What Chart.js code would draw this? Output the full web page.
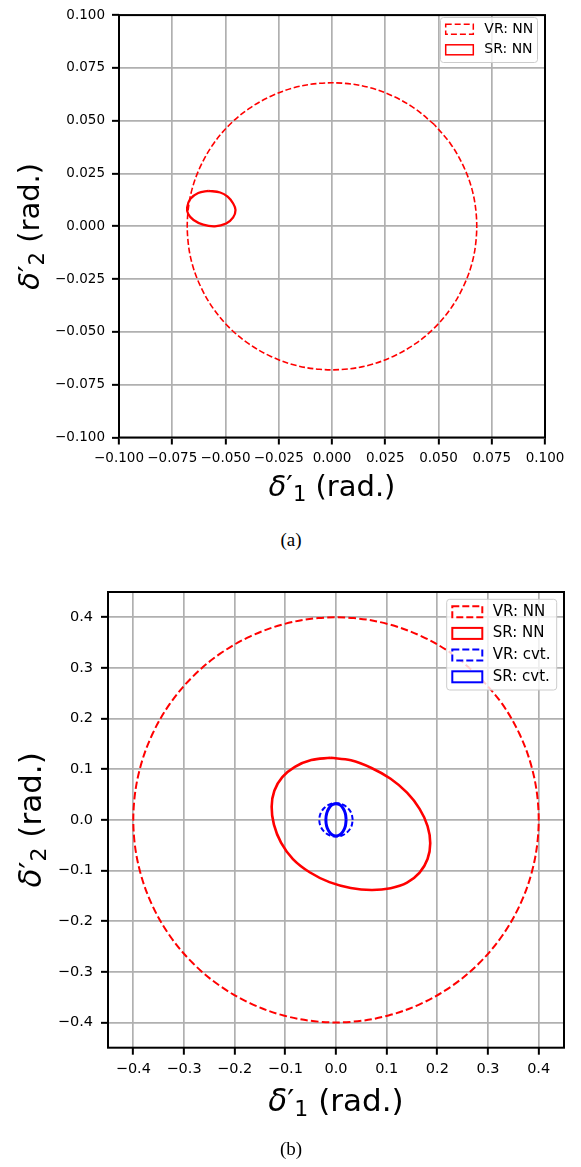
<!DOCTYPE html>
<html>
<head>
<meta charset="utf-8">
<script src="https://cdn.jsdelivr.net/npm/chart.js@4.4.1/dist/chart.umd.min.js"></script>
<style>
    body { margin: 0; background: #fff; width: 581px; height: 1167px; position: relative; overflow: hidden; }
    .box { position: absolute; left: 0; width: 581px; }
    .cap { position: absolute; width: 60px; text-align: center; font-family: "Liberation Serif", serif; font-size: 19px; line-height: 20px; color: #000; }
</style>
</head>
<body>
<div class="box" style="top:0;height:520px"><canvas id="js--chart--a"></canvas></div>
<div class="box" style="top:560px;height:580px"><canvas id="js--chart--b"></canvas></div>
<div class="cap" style="left:261px;top:530px">(a)</div>
<div class="cap" style="left:261px;top:1139px">(b)</div>

<script>
// tick values
const ticksA = [-0.1, -0.075, -0.05, -0.025, 0, 0.025, 0.05, 0.075, 0.1];
const ticksB = [-0.4, -0.3, -0.2, -0.1, 0, 0.1, 0.2, 0.3, 0.4];

// legend labels
const labelsA = ['VR: NN', 'SR: NN'];
const labelsB = ['VR: NN', 'SR: NN', 'VR: cvt.', 'SR: cvt.'];

// (a) VR: NN boundary (dashed, r ~ 0.068)
const vrNN_a = [
    [0.0481, 0.0481], [0.0390, 0.0557], [0.0287, 0.0616], [0.0176, 0.0657], [0.0059, 0.0677],
    [-0.0059, 0.0677], [-0.0176, 0.0657], [-0.0287, 0.0616], [-0.0390, 0.0557], [-0.0481, 0.0481],
    [-0.0557, 0.0390], [-0.0616, 0.0287], [-0.0657, 0.0176], [-0.0677, 0.0059], [-0.0677, -0.0059],
    [-0.0657, -0.0176], [-0.0616, -0.0287], [-0.0557, -0.0390], [-0.0481, -0.0481], [-0.0390, -0.0557],
    [-0.0287, -0.0616], [-0.0176, -0.0657], [-0.0059, -0.0677], [0.0059, -0.0677], [0.0176, -0.0657],
    [0.0287, -0.0616], [0.0390, -0.0557], [0.0481, -0.0481], [0.0557, -0.0390], [0.0616, -0.0287],
    [0.0657, -0.0176], [0.0677, -0.0059], [0.0677, 0.0059], [0.0657, 0.0176], [0.0616, 0.0287],
    [0.0557, 0.0390], [0.0481, 0.0481]
];

// (a) SR: NN boundary (small ellipse)
const srNN_a = [
    [-0.0580, 0.0168], [-0.0525, 0.0160], [-0.0490, 0.0140], [-0.0464, 0.0108], [-0.0453, 0.0077],
    [-0.0464, 0.0042], [-0.0497, 0.0013], [-0.0550, 0.0000], [-0.0605, 0.0008], [-0.0650, 0.0030],
    [-0.0675, 0.0058], [-0.0680, 0.0090], [-0.0665, 0.0130], [-0.0628, 0.0158], [-0.0580, 0.0168]
];

// (b) VR: NN boundary (dashed, r ~ 0.4)
const vrNN_b = [
    [0.2828, 0.2828], [0.2294, 0.3277], [0.1690, 0.3625], [0.1035, 0.3864], [0.0349, 0.3985],
    [-0.0349, 0.3985], [-0.1035, 0.3864], [-0.1690, 0.3625], [-0.2294, 0.3277], [-0.2828, 0.2828],
    [-0.3277, 0.2294], [-0.3625, 0.1690], [-0.3864, 0.1035], [-0.3985, 0.0349], [-0.3985, -0.0349],
    [-0.3864, -0.1035], [-0.3625, -0.1690], [-0.3277, -0.2294], [-0.2828, -0.2828], [-0.2294, -0.3277],
    [-0.1690, -0.3625], [-0.1035, -0.3864], [-0.0349, -0.3985], [0.0349, -0.3985], [0.1035, -0.3864],
    [0.1690, -0.3625], [0.2294, -0.3277], [0.2828, -0.2828], [0.3277, -0.2294], [0.3625, -0.1690],
    [0.3864, -0.1035], [0.3985, -0.0349], [0.3985, 0.0349], [0.3864, 0.1035], [0.3625, 0.1690],
    [0.3277, 0.2294], [0.2828, 0.2828]
];

// (b) SR: NN boundary (tilted ellipse), starts at the flat top
const srNN_b = [
    [-0.0110, 0.1225], [-0.0488, 0.1180], [-0.0812, 0.1046], [-0.1060, 0.0842], [-0.1217, 0.0574],
    [-0.1270, 0.0260], [-0.1225, -0.0095], [-0.1085, -0.0450], [-0.0850, -0.0775], [-0.0520, -0.1035],
    [-0.0130, -0.1230], [0.0290, -0.1345], [0.0700, -0.1385], [0.1078, -0.1350], [0.1402, -0.1240],
    [0.1650, -0.1042], [0.1807, -0.0774], [0.1860, -0.0460], [0.1807, -0.0122], [0.1650, 0.0218],
    [0.1402, 0.0536], [0.1078, 0.0811], [0.0700, 0.1024], [0.0295, 0.1175], [-0.0110, 0.1225]
];

// (b) VR: cvt. boundary (dashed, r ~ 0.033)
const vrCvt_b = [
    [0.0330, 0], [0.0305, 0.0126], [0.0233, 0.0233], [0.0126, 0.0305], [0, 0.0330],
    [-0.0126, 0.0305], [-0.0233, 0.0233], [-0.0305, 0.0126], [-0.0330, 0], [-0.0305, -0.0126],
    [-0.0233, -0.0233], [-0.0126, -0.0305], [0, -0.0330], [0.0126, -0.0305], [0.0233, -0.0233],
    [0.0305, -0.0126], [0.0330, 0]
];

// (b) SR: cvt. boundary
const srCvt_b = [
    [0.0200, 0], [0.0185, 0.0122], [0.0141, 0.0226], [0.0077, 0.0296], [0, 0.0320],
    [-0.0077, 0.0296], [-0.0141, 0.0226], [-0.0185, 0.0122], [-0.0200, 0], [-0.0185, -0.0122],
    [-0.0141, -0.0226], [-0.0077, -0.0296], [0, -0.0320], [0.0077, -0.0296], [0.0141, -0.0226],
    [0.0185, -0.0122], [0.0200, 0]
];

const FONT = '"DejaVu Sans"';

function pts(arr) {
    return arr.map(p => ({ x: p[0], y: p[1] }));
}

function fmt(dec) {
    return v => Number(v).toFixed(dec).replace('-', '\u2212');
}

function line(label, data, color, width, dash, order) {
    return {
        label: label,
        data: pts(data),
        showLine: true,
        borderColor: color,
        backgroundColor: '#fff',
        borderWidth: width,
        borderDash: dash,
        pointRadius: 0,
        pointHoverRadius: 0,
        tension: 0.35,
        fill: false,
        order: order
    };
}

function axis(pos, min, max, ticks, dec, size, fontSize, pad) {
    return {
        type: 'linear',
        position: pos,
        min: min,
        max: max,
        afterBuildTicks: s => { s.ticks = ticks.map(v => ({ value: v })); },
        afterFit: s => { if (pos === 'left') s.width = size; else s.height = size; },
        grid: { color: '#b0b0b0', lineWidth: 1.7, tickColor: '#000', tickWidth: 2, tickLength: 7 },
        border: { display: false },
        ticks: {
            color: '#000',
            font: { family: 'DejaVu Sans', size: fontSize },
            padding: pad,
            autoSkip: false,
            maxRotation: 0,
            callback: fmt(dec)
        }
    };
}

// axis title like  δ'_1 (rad.)
function drawTitle(ctx, cx, base, sub, size) {
    const parts = [
        { t: '\u03b4', f: 'italic ' + size + 'px ' + FONT, dy: 0 },
        { t: '\u2032', f: size + 'px ' + FONT, dy: 0 },
        { t: sub, f: Math.round(size * 0.72) + 'px ' + FONT, dy: size * 0.17 },
        { t: ' (rad.)', f: size + 'px ' + FONT, dy: 0 }
    ];
    let w = 0;
    parts.forEach(p => { ctx.font = p.f; p.w = ctx.measureText(p.t).width; w += p.w; });
    let x = cx - w / 2;
    ctx.fillStyle = '#000';
    ctx.textAlign = 'left';
    ctx.textBaseline = 'alphabetic';
    parts.forEach(p => { ctx.font = p.f; ctx.fillText(p.t, x, base + p.dy); x += p.w; });
}

const decor = {
    id: 'decor',
    afterDraw(chart, args, o) {
        const ctx = chart.ctx;
        const a = chart.chartArea;
        ctx.save();

        // frame
        ctx.setLineDash([]);
        ctx.strokeStyle = '#000';
        ctx.lineWidth = 2;
        ctx.strokeRect(a.left, a.top, a.right - a.left, a.bottom - a.top);

        // legend
        const L = o.legend;
        ctx.fillStyle = 'rgba(255,255,255,0.8)';
        ctx.strokeStyle = '#cccccc';
        ctx.lineWidth = 1;
        ctx.beginPath();
        ctx.roundRect(L.x, L.y, L.w, L.h, 3);
        ctx.fill();
        ctx.stroke();
        chart.data.datasets.forEach((d, i) => {
            const cy = L.rowY + i * L.rowH;
            ctx.fillStyle = '#fff';
            ctx.fillRect(L.px, cy - L.ph / 2, L.pw, L.ph);
            ctx.strokeStyle = d.borderColor;
            ctx.lineWidth = L.lw;
            ctx.setLineDash(d.borderDash.length ? L.dash : []);
            ctx.strokeRect(L.px, cy - L.ph / 2, L.pw, L.ph);
            ctx.setLineDash([]);
            ctx.fillStyle = '#000';
            ctx.font = L.font + 'px ' + FONT;
            ctx.textAlign = 'left';
            ctx.textBaseline = 'middle';
            ctx.fillText(d.label, L.tx, cy);
        });

        // axis titles
        drawTitle(ctx, (a.left + a.right) / 2, o.xTitleY, '1', o.titleSize);
        ctx.save();
        ctx.translate(o.yTitleX, (a.top + a.bottom) / 2);
        ctx.rotate(-Math.PI / 2);
        drawTitle(ctx, 0, 0, '2', o.titleSize);
        ctx.restore();

        ctx.restore();
    }
};

new Chart(document.getElementById('js--chart--a'), {
    type: 'scatter',
    data: {
        datasets: [
            line(labelsA[0], vrNN_a, '#ff0000', 1.6, [6, 2.6], 2),
            line(labelsA[1], srNN_a, '#ff0000', 2.3, [], 1)
        ]
    },
    options: {
        responsive: true,
        maintainAspectRatio: false,
        animation: false,
        layout: { padding: { top: 12, right: 36, left: 0, bottom: 0 } },
        plugins: {
            legend: { display: false },
            tooltip: { enabled: false },
            decor: {
                legend: { x: 440.5, y: 17.5, w: 97, h: 45, px: 445.7, pw: 27.6, ph: 10, rowY: 29.3, rowH: 20.5, tx: 484.3, font: 14, lw: 1.5, dash: [6, 3] },
                xTitleY: 496,
                yTitleX: 39,
                titleSize: 29
            }
        },
        scales: {
            x: axis('bottom', -0.1, 0.1, ticksA, 3, 82.5, 13.5, 6),
            y: axis('left', -0.1, 0.1, ticksA, 3, 119, 13.5, 7)
        }
    },
    plugins: [decor]
});

new Chart(document.getElementById('js--chart--b'), {
    type: 'scatter',
    data: {
        datasets: [
            line(labelsB[0], vrNN_b, '#ff0000', 2, [7.5, 3.2], 4),
            line(labelsB[1], srNN_b, '#ff0000', 2.6, [], 3),
            line(labelsB[2], vrCvt_b, '#0000ff', 2, [5, 2.5], 2),
            line(labelsB[3], srCvt_b, '#0000ff', 3, [], 1)
        ]
    },
    options: {
        responsive: true,
        maintainAspectRatio: false,
        animation: false,
        layout: { padding: { top: 32, right: 17, left: 0, bottom: 0 } },
        plugins: {
            legend: { display: false },
            tooltip: { enabled: false },
            decor: {
                legend: { x: 446.7, y: 39.3, w: 110, h: 90.7, px: 452.3, pw: 30, ph: 11, rowY: 51.7, rowH: 21.7, tx: 492.7, font: 15, lw: 2, dash: [7, 3] },
                xTitleY: 551,
                yTitleX: 41,
                titleSize: 31
            }
        },
        scales: {
            x: axis('bottom', -0.45, 0.45, ticksB, 1, 92.3, 14.5, 6),
            y: axis('left', -0.45, 0.45, ticksB, 1, 108, 14.5, 8)
        }
    },
    plugins: [decor]
});
</script>
</body>
</html>
